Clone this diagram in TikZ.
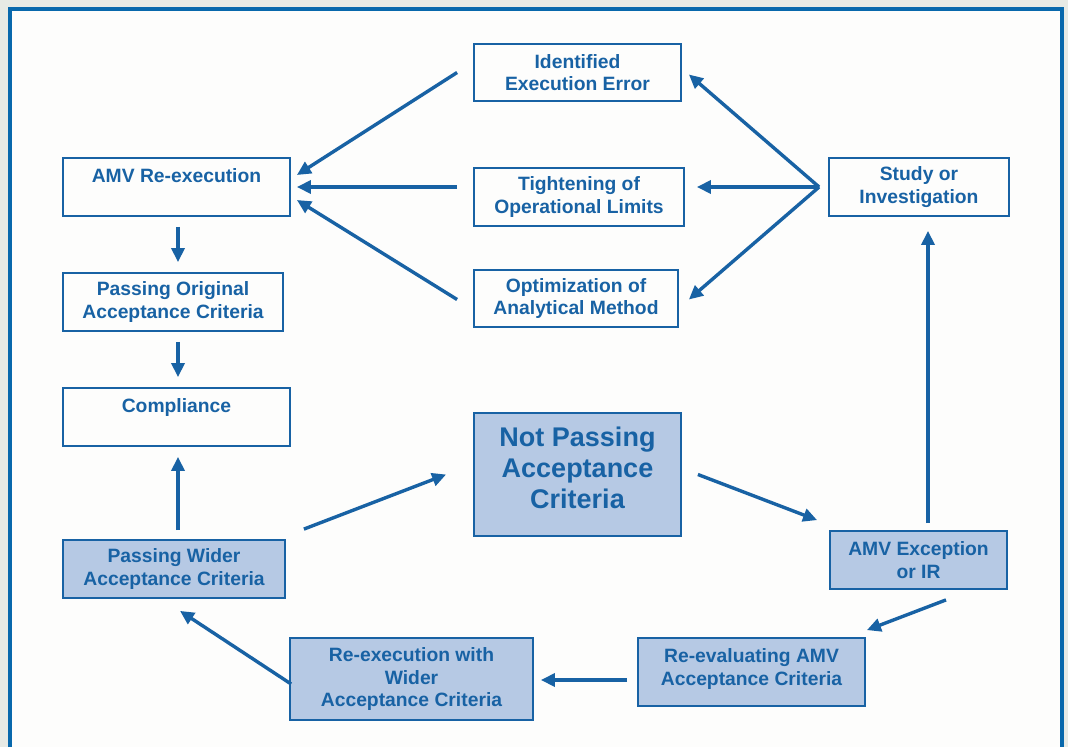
\documentclass[tikz,border=0pt]{standalone}
\usepackage{fontspec}
\setmainfont{Liberation Sans}
\usepackage{xcolor}
\definecolor{flowblue}{RGB}{24, 98, 164}
\definecolor{framblue}{RGB}{8, 104, 172}
\definecolor{boxfill}{RGB}{182, 201, 228}
\definecolor{pagegray}{RGB}{231, 234, 229}
\definecolor{pagewhite}{RGB}{253, 253, 252}
\usetikzlibrary{arrows.meta, positioning, calc}
\tikzstyle{stepbox} = [
    rectangle,
    draw=flowblue,
    line width=1.8pt,
    fill=pagewhite,
    text=flowblue,
    align=center,
    inner sep=2pt,
    font=\bfseries\fontsize{19.3}{22.5}\selectfont
]
\tikzstyle{resultbox} = [
    stepbox,
    fill=boxfill
]
\tikzstyle{arrow} = [
    -{Triangle[length=14pt,width=13pt]},
    draw=flowblue,
    line width=3.4pt
]

\begin{document}
\begin{tikzpicture}[x=1pt, y=-1pt]
    \useasboundingbox (0,0) rectangle (1068,747);
    % page and frame
    \fill[pagegray] (0,0) rectangle (1068,747);
    \fill[pagewhite] (10,9) rectangle (1062,747);
    \draw[framblue, line width=4pt] (10,747) -- (10,9) -- (1062,9) -- (1062,747);

    % left column
    \node[stepbox, minimum width=227pt, minimum height=58pt] (exec) at (176.5,187) {AMV Re-execution\\ \mbox{}};
    \node[stepbox, minimum width=220pt, minimum height=58pt] (passorig) at (173,302) {Passing Original\\Acceptance Criteria};
    \node[stepbox, minimum width=227pt, minimum height=58pt] (compl) at (176.5,417) {Compliance\\ \mbox{}};
    \node[resultbox, minimum width=222pt, minimum height=58pt] (passwide) at (174,569) {Passing Wider\\Acceptance Criteria};

    % middle column
    \node[stepbox, minimum width=207pt, minimum height=57pt] (error) at (577.5,72.5) {Identified\\Execution Error};
    \node[stepbox, minimum width=210pt, minimum height=58pt] (tight) at (579,197) {Tightening of\\Operational Limits};
    \node[stepbox, minimum width=204pt, minimum height=57pt] (optim) at (576,298.5) {Optimization of\\Analytical Method};
    \node[resultbox, minimum width=207pt, minimum height=123pt, text depth=14pt,
          font=\bfseries\fontsize{27}{31}\selectfont] (notpass) at (577.5,474.5) {Not Passing\\Acceptance\\Criteria};

    % right column
    \node[stepbox, minimum width=180pt, minimum height=58pt] (study) at (919,187) {Study or\\Investigation};
    \node[resultbox, minimum width=177pt, minimum height=58pt] (except) at (918.5,560) {AMV Exception\\or IR};

    % bottom row
    \node[resultbox, minimum width=227pt, minimum height=68pt, text depth=10pt] (reeval) at (751.5,672) {Re-evaluating AMV\\Acceptance Criteria};
    \node[resultbox, minimum width=243pt, minimum height=82pt] (rewide) at (411.5,679) {Re-execution with\\Wider\\Acceptance Criteria};

    % arrows into AMV Re-execution
    \draw[arrow] ([xshift=-16pt]error.west) -- ([xshift=6pt,yshift=12pt]exec.east);
    \draw[arrow] ([xshift=-16pt,yshift=10pt]tight.west) -- ([xshift=6pt]exec.east);
    \draw[arrow] ([xshift=-16pt,yshift=-1pt]optim.west) -- ([xshift=6pt,yshift=-13pt]exec.east);

    % arrows out of Study or Investigation
    \draw[arrow] ([xshift=-9pt]study.west) -- ([xshift=7pt,yshift=-2pt]error.east);
    \draw[arrow] ([xshift=-9pt]study.west) -- ([xshift=12pt,yshift=10pt]tight.east);
    \draw[arrow] ([xshift=-9pt]study.west) -- ([xshift=10pt,yshift=-1pt]optim.east);

    % left column arrows
    \draw[arrow, shorten <=10pt, shorten >=10pt] ([xshift=1.5pt]exec.south) -- ([xshift=5pt]passorig.north);
    \draw[arrow, shorten <=10pt, shorten >=10pt] ([xshift=5pt]passorig.south) -- ([xshift=1.5pt]compl.north);
    \draw[arrow, shorten <=9pt, shorten >=10pt] ([xshift=4pt]passwide.north) -- ([xshift=1.5pt]compl.south);

    % loop
    \draw[arrow] ([xshift=18pt,yshift=10pt]passwide.north east) -- ([xshift=-27pt]notpass.west);
    \draw[arrow] ([xshift=16pt]notpass.east) -- ([xshift=-12pt,yshift=10pt]except.north west);
    \draw[arrow, shorten <=7pt, shorten >=14pt] ([xshift=9.5pt]except.north) -- ([xshift=9pt]study.south);
    \draw[arrow] ([xshift=27.5pt,yshift=-10pt]except.south) -- ([xshift=1pt,yshift=7pt]reeval.north east);
    \draw[arrow, shorten <=10pt, shorten >=7pt] ([yshift=-8pt]reeval.west) -- ([yshift=-1pt]rewide.east);
    \draw[arrow] ([xshift=2pt,yshift=-5pt]rewide.west) -- ([xshift=6pt,yshift=-12pt]passwide.south);
\end{tikzpicture}
\end{document}
